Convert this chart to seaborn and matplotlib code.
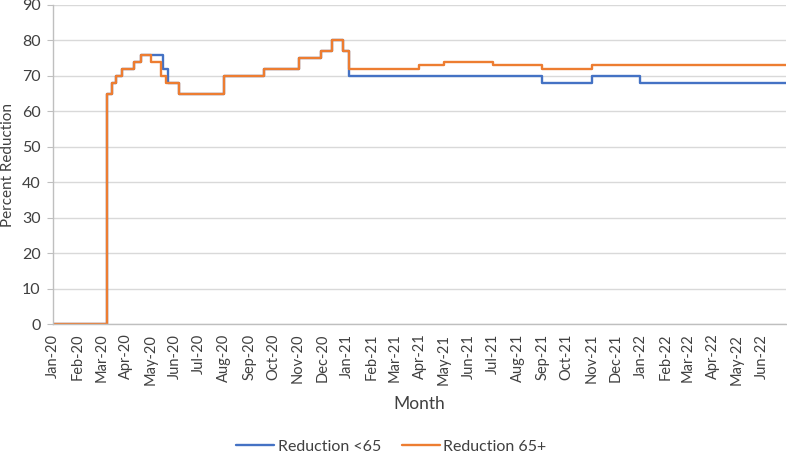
import matplotlib
matplotlib.use("Agg")
import matplotlib.pyplot as plt
import seaborn as sns
import pandas as pd

# Change-point data (date the level starts, value held until the next date)
under65_dates = ["2020-01-01", "2020-03-08", "2020-03-14", "2020-03-20", "2020-03-27",
                 "2020-04-11", "2020-04-19", "2020-05-17", "2020-05-23", "2020-06-06",
                 "2020-08-01", "2020-09-20", "2020-11-02", "2020-11-29", "2020-12-13",
                 "2020-12-27", "2021-01-03", "2021-09-01", "2021-11-02", "2022-01-01",
                 "2022-07-01"]
under65_values = [0, 65, 68, 70, 72, 74, 76, 72, 68, 65, 70, 72, 75, 77, 80, 77, 70, 68, 70, 68, 68]

over65_dates = ["2020-01-01", "2020-03-08", "2020-03-14", "2020-03-20", "2020-03-27",
                "2020-04-11", "2020-04-19", "2020-05-02", "2020-05-14", "2020-05-21",
                "2020-06-06", "2020-08-01", "2020-09-20", "2020-11-02", "2020-11-29",
                "2020-12-13", "2020-12-27", "2021-01-03", "2021-04-01", "2021-05-01",
                "2021-07-01", "2021-09-01", "2021-11-02", "2022-07-01"]
over65_values = [0, 65, 68, 70, 72, 74, 76, 74, 70, 68, 65, 70, 72, 75, 77, 80, 77, 72, 73, 74,
                 73, 72, 73, 73]

series_names = ["Reduction <65", "Reduction 65+"]
y_ticks = [0, 10, 20, 30, 40, 50, 60, 70, 80, 90]

df = pd.concat([
    pd.DataFrame({"date": pd.to_datetime(under65_dates), "value": under65_values, "series": series_names[0]}),
    pd.DataFrame({"date": pd.to_datetime(over65_dates), "value": over65_values, "series": series_names[1]}),
], ignore_index=True)

sns.set_theme(style="white")
plt.rcParams['font.family'] = ['Lato', 'DejaVu Sans']

fig = plt.figure(figsize=(7.87, 4.54), dpi=100)
ax = fig.add_axes([0.0673, 0.2863, 0.9314, 0.7027])

palette = {series_names[0]: "#4472C4", series_names[1]: "#ED7D31"}
for name in series_names:
    sub = df[df["series"] == name]
    sns.lineplot(data=sub, x="date", y="value", ax=ax, color=palette[name],
                 drawstyle="steps-post", linewidth=1.7, label=name, estimator=None)

ax.set_xlim(pd.Timestamp("2020-01-01"), pd.Timestamp("2022-07-01"))
ax.set_ylim(0, 90)
ax.set_yticks(y_ticks)
ax.yaxis.grid(True, color="#D9D9D9", linewidth=1.0)
ax.xaxis.grid(False)
ax.set_axisbelow(True)

month_ticks = pd.date_range("2020-01-01", "2022-06-01", freq="MS")
ax.set_xticks(month_ticks)
ax.set_xticklabels([d.strftime("%b-%y") for d in month_ticks], rotation=90, fontsize=10.5, color="#404040")
ax.tick_params(axis="x", length=0, pad=7)
ax.tick_params(axis="y", length=4, width=0.8, color="#BFBFBF", labelsize=11.5, labelcolor="#404040", pad=5, direction="out", left=True)

for s in ["top", "right"]:
    ax.spines[s].set_visible(False)
ax.spines["left"].set_color("#BFBFBF")
ax.spines["bottom"].set_color("#BFBFBF")
ax.spines["left"].set_linewidth(1.0)
ax.spines["bottom"].set_linewidth(1.0)

ax.set_xlabel("Month", fontsize=12.5, color="#404040", labelpad=8)
ax.set_ylabel("Percent Reduction", fontsize=11, color="#404040", labelpad=5)

ax.get_legend().remove()
handles, labels = ax.get_legend_handles_labels()
fig.legend(handles, labels, loc="center", bbox_to_anchor=(0.497, 0.016), ncol=2, frameon=False,
           fontsize=11.5, handlelength=2.4, handletextpad=0.2, columnspacing=1.3, labelcolor="#404040")

fig.savefig("out.png", dpi=100)
